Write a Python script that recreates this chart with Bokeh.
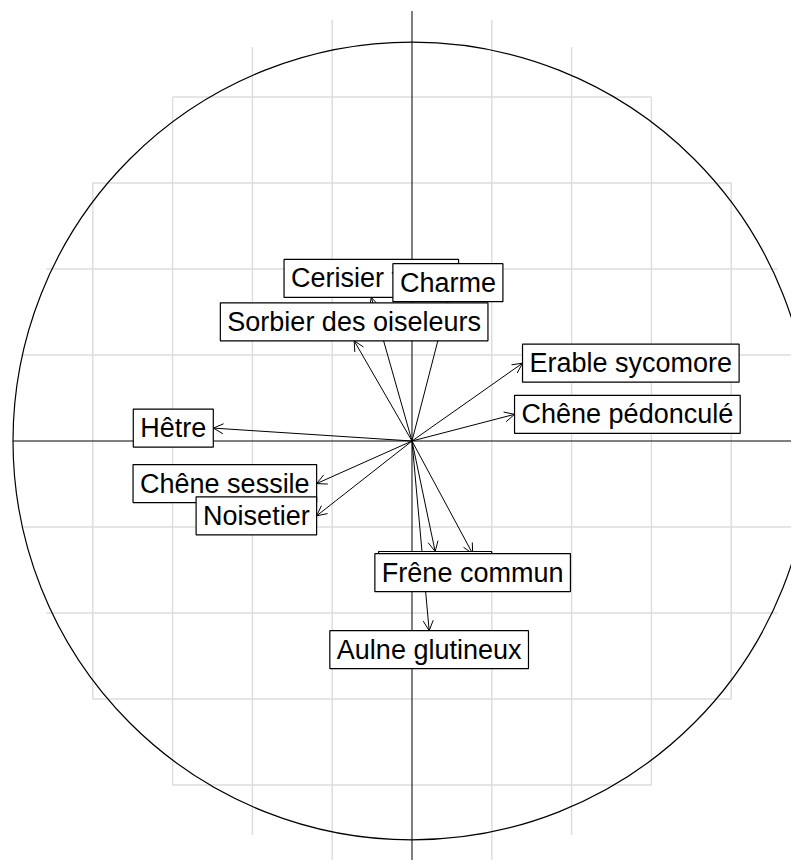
import math
from bokeh.plotting import figure
from bokeh.models import Range1d, ColumnDataSource, Arrow, OpenHead
from bokeh.core.properties import value
from bokeh.embed import file_html
from bokeh.resources import INLINE

# ---- data (correlation circle, axes 1 and 2) ----
species = ["Hêtre", "Chêne sessile", "Noisetier", "Erable sycomore",
           "Chêne pédonculé", "Sorbier des oiseleurs", "Cerisier tardif",
           "Charme", "Bouleau", "Frêne commun", "Aulne glutineux"]
axis1 = [-0.498, -0.239, -0.239, 0.277, 0.257, -0.145, -0.102, 0.090, 0.058, 0.152, 0.043]
axis2 = [0.030, -0.099, -0.174, 0.181, 0.062, 0.233, 0.334, 0.324, -0.257, -0.262, -0.441]
grid_levels = [-0.8, -0.6, -0.4, -0.2, 0.2, 0.4, 0.6, 0.8]

p = figure(width=791, height=860,
           x_range=Range1d(-1.03133, 0.95113), y_range=Range1d(-0.97558, 1.02442),
           output_backend="svg", toolbar_location=None,
           x_axis_location=None, y_axis_location=None, min_border=0)
p.outline_line_color = None
p.xgrid.visible = False
p.ygrid.visible = False

# grid, clipped to the unit circle
half = [math.sqrt(1 - g * g) for g in grid_levels]
p.segment(x0=grid_levels, y0=[-h for h in half], x1=grid_levels, y1=half,
          line_color="#dcdcdc", line_width=1.4, level="image")
p.segment(x0=[-h for h in half], y0=grid_levels, x1=half, y1=grid_levels,
          line_color="#dcdcdc", line_width=1.4, level="image")

# axes through origin
p.segment(x0=[-1, 0], y0=[0, -1], x1=[1, 0], y1=[0, 1], line_color="black", line_width=1)

# unit circle
p.circle(x=[0], y=[0], radius=1, fill_color=None, line_color="black", line_width=1.2)

# arrows
src = ColumnDataSource(dict(x0=[0] * len(species), y0=[0] * len(species), x=axis1, y=axis2))
p.add_layout(Arrow(end=OpenHead(size=10, line_width=1, line_color="black"),
                   x_start="x0", y_start="y0", x_end="x", y_end="y", source=src,
                   line_color="black", line_width=1, level="underlay"))

# boxed labels
for name, x, y in zip(species, axis1, axis2):
    if abs(x) > abs(y):
        anchor = "center_left" if x > 0 else "center_right"
    else:
        anchor = "bottom_center" if y > 0 else "top_center"
    p.text(x=[x], y=[y], text=[name], anchor=anchor,
           text_font=value("Liberation Sans"), text_font_size="27px", text_color="black",
           background_fill_color="white", border_line_color="black", border_line_width=1.2,
           padding=dict(left=7, right=7, top=4, bottom=4))

open("out.html", "w").write(file_html(p, INLINE))
